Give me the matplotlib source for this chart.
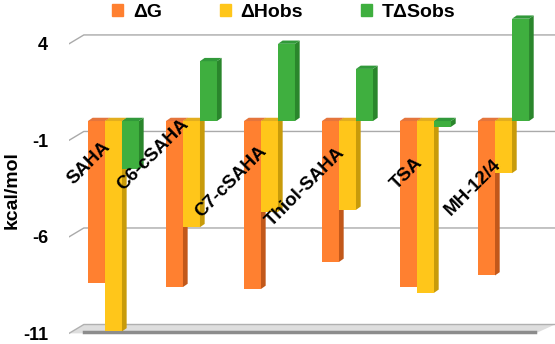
import matplotlib.pyplot as plt
from matplotlib.patches import Polygon, Patch
import numpy as np

plt.rcParams['font.family'] = ['Liberation Sans', 'DejaVu Sans']
plt.rcParams['font.weight'] = 'bold'

compounds = ['SAHA', 'C6-cSAHA', 'C7-cSAHA', 'Thiol-SAHA', 'TSA', 'MH-12/4']
dG = [-8.4, -8.6, -8.7, -7.3, -8.6, -8.0]
dH_obs = [-10.9, -5.5, -4.7, -4.6, -8.9, -2.7]
TdS_obs = [-2.5, 3.1, 4.0, 2.7, -0.3, 5.3]
series_names = ['ΔG', 'ΔHobs', 'TΔSobs']
yticks = [4, -1, -6, -11]

# front, side, top face colours for each series
faces = [('#FF8030', '#C2581A', '#E5753C'),
         ('#FFC61A', '#C89B0A', '#E3AE1E'),
         ('#3FAF3F', '#2A862C', '#31993A')]
# where the top end of each rotated name sits (kcal/mol)
label_top = [-0.9, 0.3, -1.1, -1.2, -1.7, -1.8]

fig = plt.figure(figsize=(5.55, 3.44), dpi=100)
ax = fig.add_axes([69 / 555, 0, 1 - 69 / 555, 1])
ax.set_xlim(-0.57, 5.66)
ax.set_ylim(-11.55, 6.27)
for s in ax.spines.values():
    s.set_visible(False)
ax.set_xticks([])
ax.set_yticks(yticks)
ax.set_yticklabels([str(t) for t in yticks], fontsize=13, fontweight='bold')
ax.tick_params(axis='y', length=0, pad=15)

x = np.arange(len(compounds))
w = 0.218
dx, dy = 0.06, 0.17          # depth of the fake 3d faces
gx, gy = 0.19, 0.46          # back wall shift
x0, x1 = ax.get_xlim()

# back wall gridlines with the little perspective stub
for t in yticks[:-1]:
    ax.plot([x0, x0 + gx, x1], [t, t + gy, t + gy], color='#AAAAAA', lw=1, zorder=0)

# floor
fl = yticks[-1]
ax.add_patch(Polygon([(x0, fl), (x0 + gx, fl + gy), (x1, fl + gy), (x1 - 0.25, fl)],
                     closed=True, facecolor='#DEDEDE', edgecolor='none', zorder=0))
ax.plot([x0, x0 + gx, x1], [fl, fl + gy, fl + gy], color='#B0B0B0', lw=1, zorder=0)
ax.plot([x0 + gx, x1 - 0.25], [fl + 0.05, fl + 0.05], color='#8C8C8C', lw=2.5, zorder=0)

z = 2
for i, vals in enumerate([dG, dH_obs, TdS_obs]):
    front, side, top = faces[i]
    bars = ax.bar(x + (i - 1) * w, vals, w, color=front, zorder=z, linewidth=0)
    for b in bars:
        bx = b.get_x()
        lo = min(b.get_y(), b.get_y() + b.get_height())
        hi = max(b.get_y(), b.get_y() + b.get_height())
        ax.add_patch(Polygon([(bx + w, lo), (bx + w + dx, lo + dy), (bx + w + dx, hi + dy), (bx + w, hi)],
                             closed=True, facecolor=side, edgecolor='none', zorder=z))
        ax.add_patch(Polygon([(bx, hi), (bx + w, hi), (bx + w + dx, hi + dy), (bx + dx, hi + dy)],
                             closed=True, facecolor=top, edgecolor='none', zorder=z))
    z += 1

for i, name in enumerate(compounds):
    ax.text(x[i] - 0.15, label_top[i], name, rotation=45, rotation_mode='anchor',
            ha='right', va='top', fontsize=13.5, fontweight='bold', color='black', zorder=10)

fig.text(12 / 555, 1 - 190 / 344, 'kcal/mol', rotation=90, ha='center', va='center',
         fontsize=14, fontweight='bold')

handles = [Patch(color=faces[i][0]) for i in range(3)]
fig.legend(handles, series_names, loc='upper center', bbox_to_anchor=(284 / 555, 1.04),
           ncol=3, frameon=False, prop={'weight': 'bold', 'size': 14},
           handlelength=0.55, handleheight=0.55, handletextpad=0.5, columnspacing=3.0)

fig.savefig('out.png', dpi=100)
